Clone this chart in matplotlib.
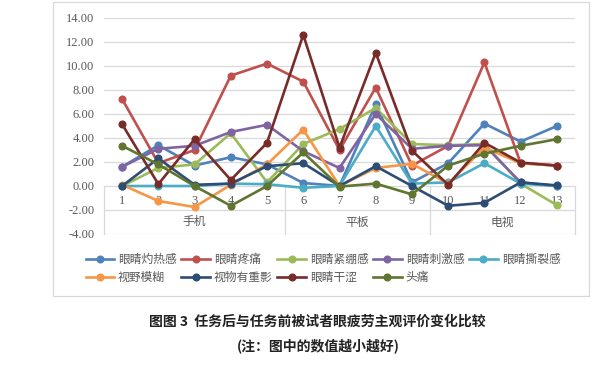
import matplotlib
matplotlib.use('Agg')
import matplotlib.pyplot as plt
from matplotlib.patches import Rectangle

plt.rcParams['font.family'] = ['Noto Sans CJK SC', 'DejaVu Sans']

# data
points = list(range(1, 14))
groups = ['手机', '平板', '电视']
group_spans = [(1, 5), (6, 9), (10, 13)]

names = ['眼睛灼热感', '眼睛疼痛', '眼睛紧绷感', '眼睛刺激感', '眼睛撕裂感',
         '视野模糊', '视物有重影', '眼睛干涩', '头痛']
burn = [1.6, 3.4, 1.7, 2.4, 1.8, 0.25, 0, 6.8, 0.3, 1.9, 5.2, 3.7, 5.0]
pain = [7.25, 1.9, 3.0, 9.2, 10.2, 8.7, 3.0, 8.2, 1.7, 3.35, 10.3, 1.9, 1.7]
tight = [0, 1.5, 1.8, 4.4, 0.3, 3.5, 4.75, 6.5, 3.5, 3.4, 3.5, 0.2, -1.6]
irritate = [1.6, 3.1, 3.35, 4.5, 5.1, 2.9, 1.5, 6.0, 3.1, 3.35, 3.4, 0.3, 0]
tear = [0, 0, 0, 0.2, 0.15, -0.15, 0, 5.0, 0.2, 0.3, 1.9, 0.2, 0]
blur = [0.1, -1.25, -1.75, 0.1, 1.8, 4.7, 0, 1.5, 1.85, 0.2, 3.2, 1.9, 1.7]
double = [0, 2.3, 0.1, 0.2, 1.65, 1.9, 0, 1.65, 0, -1.65, -1.4, 0.3, 0.05]
dry = [5.15, 0.15, 3.9, 0.5, 3.6, 12.6, 3.2, 11.1, 2.95, 0.1, 3.6, 1.95, 1.7]
headache = [3.35, 1.8, 0, -1.65, 0, 2.8, -0.05, 0.2, -0.7, 1.7, 2.7, 3.35, 3.9]
series = [burn, pain, tight, irritate, tear, blur, double, dry, headache]

colors = ['#4F81BD', '#C0504D', '#9BBB59', '#8064A2', '#4BACC6',
          '#F79646', '#2C4D75', '#772C2A', '#5F7530']

grey = '#595959'
grid = '#D9D9D9'

fig = plt.figure(figsize=(6, 3.71), dpi=100)
ax = fig.add_axes([104 / 600, 1 - 234 / 371, 471 / 600, 216 / 371])

for s, name, c in zip(series, names, colors):
    ax.plot(points, s, color=c, lw=1.9, marker='o', ms=4.8, label=name,
            solid_joinstyle='round', zorder=3)

ax.set_xlim(0.5, 13.5)
ax.set_ylim(-4, 14)
ax.set_yticks(range(-4, 15, 2))
ax.set_yticklabels(['{:.2f}'.format(v) for v in range(-4, 15, 2)],
                   family='Liberation Serif', fontsize=9, color=grey)
ax.tick_params(axis='y', length=0, pad=7)
ax.set_xticks([])
for sp in ax.spines.values():
    sp.set_visible(False)
ax.grid(axis='y', color=grid, lw=0.9, zorder=0)

# multi-level category axis
for b in [0.5, 5.5, 9.5, 13.5]:
    ax.plot([b, b], [0, -4], color=grid, lw=0.9, zorder=1, clip_on=False)
for p in points:
    ax.text(p, -1.25, str(p), ha='center', va='center', fontsize=9,
            family='Liberation Serif', color=grey, zorder=2)
for g, (a, b) in zip(groups, group_spans):
    ax.text((a + b) / 2, -3.0, g, ha='center', va='center', fontsize=8.5,
            color=grey, zorder=2)

# legend laid out row by row like Excel
handles, labels = ax.get_legend_handles_labels()
order = [0, 5, 1, 6, 2, 7, 3, 8, 4]
fig.legend([handles[i] for i in order], [labels[i] for i in order],
           ncol=5, loc='center', bbox_to_anchor=(323 / 600, 1 - 268.5 / 371),
           frameon=False, fontsize=8.5, handlelength=2.4, handletextpad=0.35,
           columnspacing=0.4, labelspacing=0.45, borderpad=0,
           labelcolor=grey)

# chart border
fig.patches.append(Rectangle((53 / 600, 1 - 296 / 371), 536 / 600, 294 / 371,
                             transform=fig.transFigure, fill=False,
                             edgecolor=grid, lw=0.9))

fig.text(317 / 600, 1 - 322 / 371, '图图 3  任务后与任务前被试者眼疲劳主观评价变化比较',
         ha='center', va='center', fontsize=10, weight='bold', color='#222222')
fig.text(318 / 600, 1 - 346 / 371, '(注：图中的数值越小越好)',
         ha='center', va='center', fontsize=10, weight='bold', color='#222222')

fig.savefig('out.png', dpi=100)
